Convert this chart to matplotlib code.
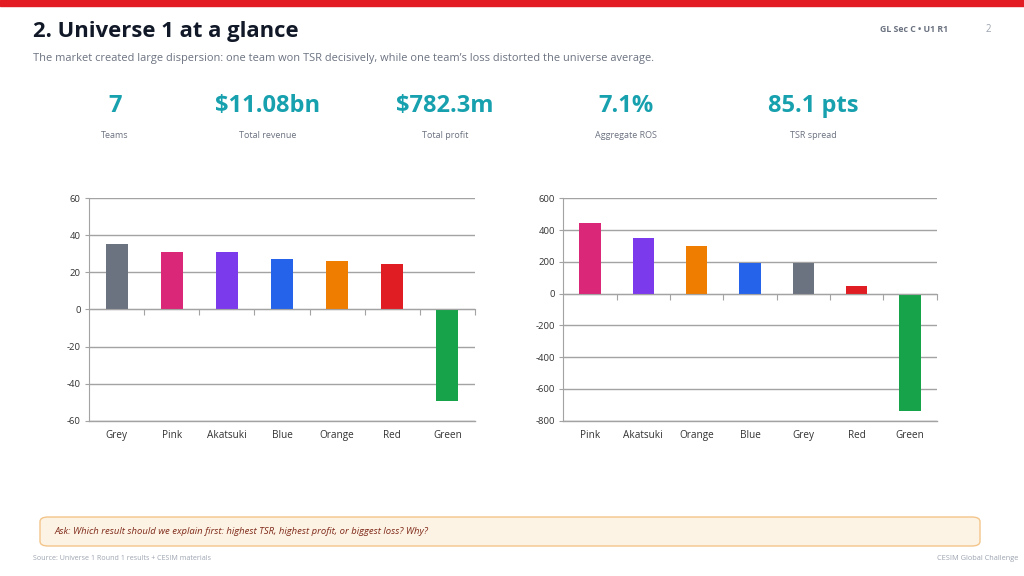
import matplotlib.pyplot as plt
from matplotlib.patches import FancyBboxPatch, Rectangle
from matplotlib.transforms import blended_transform_factory

plt.rcParams['font.family'] = ['Open Sans', 'Noto Sans', 'DejaVu Sans']

# data
team_colors = {"Grey": "#6b7280", "Pink": "#db2777", "Akatsuki": "#7c3aed",
               "Blue": "#2563eb", "Orange": "#ee7d00", "Red": "#e11d24",
               "Green": "#16a34a"}

tsr_teams = ["Grey", "Pink", "Akatsuki", "Blue", "Orange", "Red", "Green"]
tsr_values = [35.5, 31.2, 31.2, 27.0, 26.0, 24.6, -49.6]

profit_teams = ["Pink", "Akatsuki", "Orange", "Blue", "Grey", "Red", "Green"]
profit_values = [442, 348, 300, 195, 190, 45, -737]

kpi_values = ["7", "$11.08bn", "$782.3m", "7.1%", "85.1 pts"]
kpi_labels = ["Teams", "Total revenue", "Total profit", "Aggregate ROS", "TSR spread"]
kpi_x = [115, 268, 445, 626, 813]

W, H = 1024, 576
fig = plt.figure(figsize=(W / 100, H / 100), dpi=100)
fig.patch.set_facecolor("white")

def px(x, y):
    return x / W, 1 - y / H

# top red band
fig.patches.append(Rectangle((0, 1 - 6 / H), 1, 6 / H, transform=fig.transFigure,
                             color="#e31b23", zorder=5))

fig.text(*px(33, 32), "2. Universe 1 at a glance", fontsize=15.8, fontweight="bold",
         color="#111827", va="center", ha="left")
fig.text(*px(33, 58), "The market created large dispersion: one team won TSR decisively, "
         "while one team\u2019s loss distorted the universe average.",
         fontsize=7.95, color="#6b7280", va="center", ha="left")
fig.text(*px(948, 29), "GL Sec C \u2022 U1 R1", fontsize=6.3, fontweight="bold",
         color="#6b7280", va="center", ha="right")
fig.text(*px(991, 29), "2", fontsize=7, color="#9ca3af", va="center", ha="right")

for v, lab, x in zip(kpi_values, kpi_labels, kpi_x):
    fig.text(*px(x, 106), v, fontsize=17, fontweight="bold", color="#17a0ae",
             ha="center", va="center")
    fig.text(*px(x, 136), lab, fontsize=6.5, color="#6b7280", ha="center", va="center")


def bar_panel(rect, teams, values, ylim, yticks):
    ax = fig.add_axes(rect)
    n = len(teams)
    xs = list(range(n))
    ax.bar(xs, values, width=0.4, color=[team_colors[t] for t in teams], zorder=3)
    ax.set_xlim(-0.5, n - 0.5)
    ax.set_ylim(*ylim)
    ax.set_yticks(yticks)
    ax.set_yticklabels([str(t) for t in yticks])
    ax.yaxis.grid(True, color="#a3a3a3", linewidth=1, zorder=0)
    ax.axhline(ylim[0], color="#a3a3a3", linewidth=1, clip_on=False, zorder=0)
    for s in ["top", "right"]:
        ax.spines[s].set_visible(False)
    ax.spines["left"].set_color("#a3a3a3")
    ax.spines["bottom"].set_position(("data", 0))
    ax.spines["bottom"].set_color("#a3a3a3")
    ax.spines["bottom"].set_zorder(4)
    ax.set_xticks([i + 0.5 for i in range(n)])
    ax.set_xticklabels([])
    ax.tick_params(axis="x", length=4, color="#a3a3a3")
    ax.tick_params(axis="y", length=3, color="#a3a3a3", labelsize=6.8,
                   labelcolor="#333333", pad=3)
    tr = blended_transform_factory(ax.transData, ax.transAxes)
    for i, t in enumerate(teams):
        ax.text(i, -0.065, t, transform=tr, ha="center", va="center", fontsize=7.2,
                color="#333333")
    return ax

bar_panel([89 / W, 1 - 420.7 / H, (475 - 89) / W, 222.4 / H],
          tsr_teams, tsr_values, (-60, 60), [-60, -40, -20, 0, 20, 40, 60])
bar_panel([563.3 / W, 1 - 420.7 / H, (936.7 - 563.3) / W, 222.4 / H],
          profit_teams, profit_values, (-800, 600), [-800, -600, -400, -200, 0, 200, 400, 600])

# callout box
bx0, by0 = px(40, 546)
bx1, by1 = px(980, 517)
fig.patches.append(FancyBboxPatch((bx0, by0), bx1 - bx0, by1 - by0,
                                  boxstyle="round,pad=0,rounding_size=0.008",
                                  transform=fig.transFigure, facecolor="#fdf3e4",
                                  edgecolor="#f3c58a", linewidth=1))
fig.text(*px(55, 531.5), "Ask: Which result should we explain first: highest TSR, "
         "highest profit, or biggest loss? Why?", fontsize=6.8, style="italic",
         color="#7f2a1a", ha="left", va="center")

fig.text(*px(33, 559), "Source: Universe 1 Round 1 results + CESIM materials",
         fontsize=5.1, color="#9ca3af", ha="left", va="center")
fig.text(*px(1018, 559), "CESIM Global Challenge", fontsize=5.3, color="#9ca3af",
         ha="right", va="center")

fig.savefig("out.png", dpi=100)
